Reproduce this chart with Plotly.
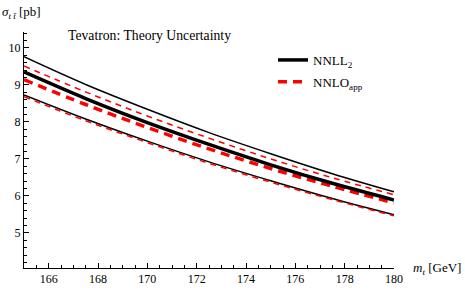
import plotly.graph_objects as go

m_t = [165, 167.5, 170, 172.5, 175, 177.5, 180]

nnll_central = [9.35, 8.63, 7.98, 7.39, 6.84, 6.34, 5.89]
nnll_upper = [9.76, 9.01, 8.34, 7.71, 7.14, 6.60, 6.11]
nnll_lower = [8.73, 8.08, 7.48, 6.92, 6.41, 5.93, 5.49]

nnlo_central = [9.14, 8.47, 7.85, 7.27, 6.74, 6.26, 5.81]
nnlo_upper = [9.51, 8.81, 8.16, 7.56, 7.00, 6.49, 6.03]
nnlo_lower = [8.68, 8.03, 7.44, 6.88, 6.37, 5.90, 5.46]

x_ticks = [166, 168, 170, 172, 174, 176, 178, 180]
y_ticks = [5, 6, 7, 8, 9, 10]

SERIF = '"Liberation Serif", "Times New Roman", serif'
RED = "#ff0000"

fig = go.Figure()

def add(y, color, width, dash, name=None, show=False, group=None):
    fig.add_trace(go.Scatter(
        x=m_t, y=y, mode="lines", line=dict(color=color, width=width, dash=dash, shape="spline"),
        name=name, showlegend=show, legendgroup=group, hoverinfo="skip"))

add(nnll_upper, "black", 1.5, "solid")
add(nnll_lower, "black", 1.5, "solid")
add(nnlo_upper, RED, 1.5, "6px,5px")
add(nnlo_lower, RED, 1.5, "6px,5px")
add(nnlo_central, RED, 3.5, "9px,6px", "NNLO<sub>app</sub>", False)
add(nnll_central, "black", 3.5, "solid", "NNLL<sub>2</sub>", True, "a")
fig.add_trace(go.Scatter(x=[None], y=[None], mode="lines",
                         line=dict(color=RED, width=3.5, dash="9px,6px"),
                         name="NNLO<sub>app</sub>", showlegend=True, legendgroup="b"))

fig.update_layout(
    width=465, height=290,
    margin=dict(l=24, r=71, t=32, b=22, autoexpand=False),
    paper_bgcolor="white", plot_bgcolor="white",
    font=dict(family=SERIF, size=12, color="black"),
    showlegend=True,
    legend=dict(x=0.673, y=0.945, xanchor="left", yanchor="top",
                bgcolor="rgba(0,0,0,0)", font=dict(family=SERIF, size=13),
                itemwidth=30, tracegroupgap=2, traceorder="grouped"),
    xaxis=dict(range=[165, 180], tickvals=x_ticks, showgrid=False, zeroline=False,
               showline=True, linecolor="black", linewidth=1, automargin=False,
               ticks="inside", ticklen=5, tickcolor="black",
               minor=dict(dtick=0.5, ticks="inside", ticklen=3, tickcolor="black", showgrid=False),
               tickfont=dict(family=SERIF, size=12)),
    yaxis=dict(range=[4.05, 10.43], tickvals=y_ticks, showgrid=False, zeroline=False,
               showline=True, linecolor="black", linewidth=1, automargin=False,
               ticks="inside", ticklen=5, tickcolor="black",
               minor=dict(dtick=0.2, ticks="inside", ticklen=3, tickcolor="black", showgrid=False),
               tickfont=dict(family=SERIF, size=12)),
)

fig.add_annotation(x=0.34, y=0.985, xref="paper", yref="paper", yanchor="middle",
                   text="Tevatron: Theory Uncertainty",
                   showarrow=False, font=dict(family=SERIF, size=13.7))
fig.add_annotation(x=0, y=1.0, xref="paper", yref="paper", xanchor="left", yanchor="bottom",
                   xshift=-24, yshift=9,
                   text="<i>σ</i><sub><i>t t̄</i></sub> [pb]", showarrow=False, font=dict(family=SERIF, size=13))
fig.add_annotation(x=1.0, y=0, xref="paper", yref="paper", xanchor="left", yanchor="middle",
                   xshift=17, text="<i>m</i><sub><i>t</i></sub> [GeV]", showarrow=False,
                   font=dict(family=SERIF, size=13))

fig.write_html("out.html", config={"displayModeBar": False},
               post_script="document.body.style.margin='0';document.body.style.overflow='hidden';")
